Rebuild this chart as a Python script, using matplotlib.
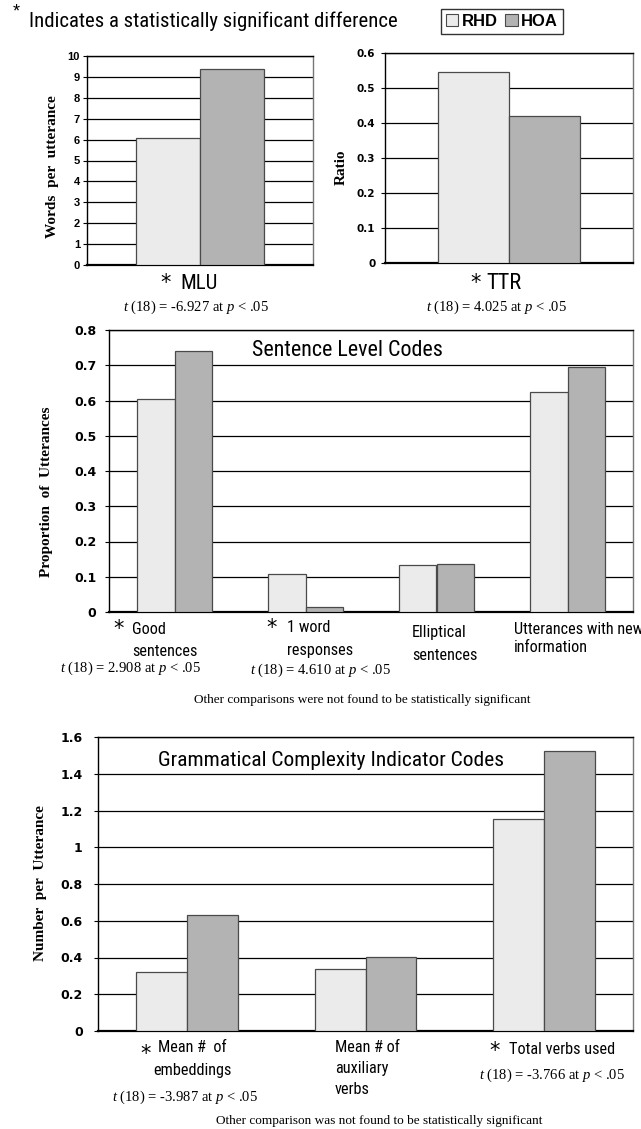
import os
import numpy as np
import matplotlib
matplotlib.use("Agg")
import matplotlib.pyplot as plt
from matplotlib.patches import Patch
from matplotlib import font_manager
from matplotlib.font_manager import FontProperties

# ---------------- data ----------------
groups = ["RHD", "HOA"]
mlu_values = [6.08, 9.38]
ttr_values = [0.546, 0.42]

sentence_rhd = [0.605, 0.107, 0.133, 0.623]
sentence_hoa = [0.741, 0.014, 0.137, 0.696]

gram_rhd = [0.319, 0.336, 1.152]
gram_hoa = [0.633, 0.401, 1.522]

mlu_ticks = list(range(0, 11))
ttr_ticks = [0, 0.1, 0.2, 0.3, 0.4, 0.5, 0.6]
ttr_tick_labels = ["0", "0.1", "0.2", "0.3", "0.4", "0.5", "0.6"]
sent_ticks = [0, 0.1, 0.2, 0.3, 0.4, 0.5, 0.6, 0.7, 0.8]
sent_tick_labels = ["0", "0.1", "0.2", "0.3", "0.4", "0.5", "0.6", "0.7", "0.8"]
gram_ticks = [0, 0.2, 0.4, 0.6, 0.8, 1, 1.2, 1.4, 1.6]
gram_tick_labels = ["0", "0.2", "0.4", "0.6", "0.8", "1", "1.2", "1.4", "1.6"]

t_mlu = "-6.927"
t_ttr = "4.025"
t_good = "2.908"
t_oneword = "4.610"
t_emb = "-3.987"
t_verbs = "-3.766"

# ---------------- fonts ----------------
SANS = "Liberation Sans"
SERIF = "Liberation Serif"


def find_narrow():
    prefs = ["liberationsansnarrow-regular", "robotocondensed-regular",
             "notosans-condensed.", "opensans-condensed", "opensans_condensed-regular",
             "dejavusanscondensed."]
    files = [f.fname for f in font_manager.fontManager.ttflist]
    low = [(os.path.basename(p).lower(), p) for p in files]
    for pref in prefs:
        for b, p in low:
            if b.startswith(pref):
                return p
    bad = ["bold", "italic", "oblique", "mono", "serif", "light", "thin", "semi",
           "extra", "black", "medium", "cjk"]
    for b, p in low:
        if ("condensed" in b or "narrow" in b) and not any(x in b for x in bad):
            return p
    return None


NARROW_FILE = find_narrow()


def narrow_fp(size):
    if NARROW_FILE:
        return FontProperties(fname=NARROW_FILE, size=size)
    return FontProperties(family=SANS, size=size)


plt.rcParams["mathtext.fontset"] = "custom"
plt.rcParams["mathtext.it"] = "Liberation Serif:italic"
plt.rcParams["mathtext.rm"] = "Liberation Serif"

RHD_C = "#ebebeb"
HOA_C = "#b3b3b3"
EDGE = "#4a4a4a"

W, H = 641, 1129
fig = plt.figure(figsize=(W / 100, H / 100), dpi=100)
fig.patch.set_facecolor("white")
renderer = fig.canvas.get_renderer()


def fx(x):
    return x / W


def fy(y):
    return 1 - y / H


def fit_size(s, target_w, nominal):
    t = fig.text(0, 0, s, fontproperties=narrow_fp(nominal))
    w = t.get_window_extent(renderer).width
    t.remove()
    size = nominal * target_w / w
    return max(0.6 * nominal, min(1.2 * nominal, size))


def add_ax(l, t, r, b):
    return fig.add_axes([l / W, 1 - b / H, (r - l) / W, (b - t) / H])


def style(ax, ticks, ymax, tick_font, tick_size, pad, labels=None):
    ax.set_ylim(0, ymax)
    ax.set_yticks(ticks)
    if labels is not None:
        ax.set_yticklabels(labels)
    ax.set_xticks([])
    ax.yaxis.grid(True, color="black", lw=0.9)
    ax.set_axisbelow(True)
    ax.tick_params(axis="y", length=3, width=0.8, pad=pad)
    for lab in ax.get_yticklabels():
        lab.set_fontfamily(tick_font)
        lab.set_fontweight("bold")
        lab.set_fontsize(tick_size)
    for s in ax.spines.values():
        s.set_linewidth(1.0)
        s.set_color("black")
    ax.spines["right"].set_color("#777777")
    ax.spines["bottom"].set_linewidth(1.6)


def draw_bars(ax, rhd, hoa, width=0.285):
    x = np.arange(len(rhd))
    ax.bar(x - width / 2, rhd, width, color=RHD_C, edgecolor=EDGE, lw=0.9, zorder=3)
    ax.bar(x + width / 2, hoa, width, color=HOA_C, edgecolor=EDGE, lw=0.9, zorder=3)
    ax.set_xlim(-0.5, len(rhd) - 0.5)


def txt(x, y, s, **kw):
    kw.setdefault("va", "center")
    fig.text(fx(x), fy(y), s, **kw)


def ntxt(x, y, s, size, **kw):
    kw.setdefault("va", "center")
    fig.text(fx(x), fy(y), s, fontproperties=narrow_fp(size), **kw)


def star(x, y):
    txt(x, y, "*", family="DejaVu Sans", fontsize=15, ha="center")


def tstat(xc, y, val):
    txt(xc, y, r"$\mathit{t}$ (18) = " + val + r" at $\mathit{p}$ < .05",
        ha="center", family=SERIF, fontsize=10.5)


CAT = fit_size("Total verbs used", 106, 12)

# ---------------- header ----------------
txt(16, 12, "*", family=SANS, fontsize=13, ha="center")
ntxt(29, 21, "Indicates a statistically significant difference",
     fit_size("Indicates a statistically significant difference", 369, 14.5), ha="left")

handles = [Patch(facecolor=RHD_C, edgecolor=EDGE, lw=0.8),
           Patch(facecolor=HOA_C, edgecolor=EDGE, lw=0.8)]
leg = fig.legend(handles, groups, ncol=2, loc="center",
                 bbox_to_anchor=(fx(502), fy(21.5)), frameon=True, fancybox=False,
                 edgecolor="black", handlelength=0.75, handleheight=0.75,
                 handletextpad=0.2, columnspacing=0.45, borderpad=0.3,
                 borderaxespad=0, prop={"family": SANS, "weight": "bold", "size": 12})
leg.get_frame().set_linewidth(1.0)

# ---------------- MLU ----------------
ax1 = add_ax(87, 56, 313, 265)
draw_bars(ax1, [mlu_values[0]], [mlu_values[1]])
style(ax1, mlu_ticks, 10, SANS, 8, 2)
txt(53, 167, "Words  per  utterance", rotation=90, family=SERIF, weight="bold",
    fontsize=11, ha="center")
star(166, 283)
ntxt(180, 283, "MLU", fit_size("MLU", 37, 13.5), ha="left")
tstat(196, 307, t_mlu)

# ---------------- TTR ----------------
ax2 = add_ax(385, 53, 633, 263)
draw_bars(ax2, [ttr_values[0]], [ttr_values[1]])
style(ax2, ttr_ticks, 0.6, "DejaVu Sans", 7.5, 4, labels=ttr_tick_labels)
txt(341, 167, "Ratio", rotation=90, family=SERIF, weight="bold",
    fontsize=11, ha="center")
star(476, 283)
ntxt(486, 283, "TTR", fit_size("TTR", 40, 13.5), ha="left")
tstat(497, 307, t_ttr)

# ---------------- Sentence level ----------------
ax3 = add_ax(109, 330, 633, 612)
draw_bars(ax3, sentence_rhd, sentence_hoa)
style(ax3, sent_ticks, 0.8, "DejaVu Sans", 9, 6, labels=sent_tick_labels)
txt(47, 492, "Proportion  of  Utterances", rotation=90, family=SERIF,
    weight="bold", fontsize=11, ha="center")
ntxt(347, 350, "Sentence Level Codes", fit_size("Sentence Level Codes", 191, 16.5),
     ha="center")

star(119, 629)
ntxt(132, 630, "Good", CAT, ha="left")
ntxt(132, 652, "sentences", CAT, ha="left")
tstat(131, 668, t_good)

star(272, 628)
ntxt(287, 628, "1 word", CAT, ha="left")
ntxt(287, 650, "responses", CAT, ha="left")
tstat(321, 670, t_oneword)

ntxt(412, 633, "Elliptical", CAT, ha="left")
ntxt(412, 655, "sentences", CAT, ha="left")

ntxt(514, 630, "Utterances with new", CAT, ha="left")
ntxt(514, 647, "information", CAT, ha="left")

txt(362, 700, "Other comparisons were not found to be statistically significant",
    family=SERIF, fontsize=9.5, ha="center")

# ---------------- Grammatical complexity ----------------
ax4 = add_ax(98, 737, 633, 1031)
draw_bars(ax4, gram_rhd, gram_hoa)
style(ax4, gram_ticks, 1.6, "DejaVu Sans", 9, 8, labels=gram_tick_labels)
txt(41, 883, "Number  per  Utterance", rotation=90, family=SERIF,
    weight="bold", fontsize=11, ha="center")
ntxt(331, 760, "Grammatical Complexity Indicator Codes",
     fit_size("Grammatical Complexity Indicator Codes", 346, 16.5), ha="center")

star(146, 1054)
ntxt(192, 1048, "Mean #  of", CAT, ha="center")
ntxt(192, 1070, "embeddings", CAT, ha="center")
tstat(185, 1097, t_emb)

ntxt(335, 1047, "Mean # of", CAT, ha="left")
ntxt(335, 1068, "auxiliary", CAT, ha="left")
ntxt(335, 1090, "verbs", CAT, ha="left")

star(495, 1051)
ntxt(509, 1050, "Total verbs used", CAT, ha="left")
tstat(552, 1075, t_verbs)

txt(379, 1121, "Other comparison was not found to be statistically significant",
    family=SERIF, fontsize=9.5, ha="center")

fig.savefig("out.png", dpi=100, facecolor="white")
